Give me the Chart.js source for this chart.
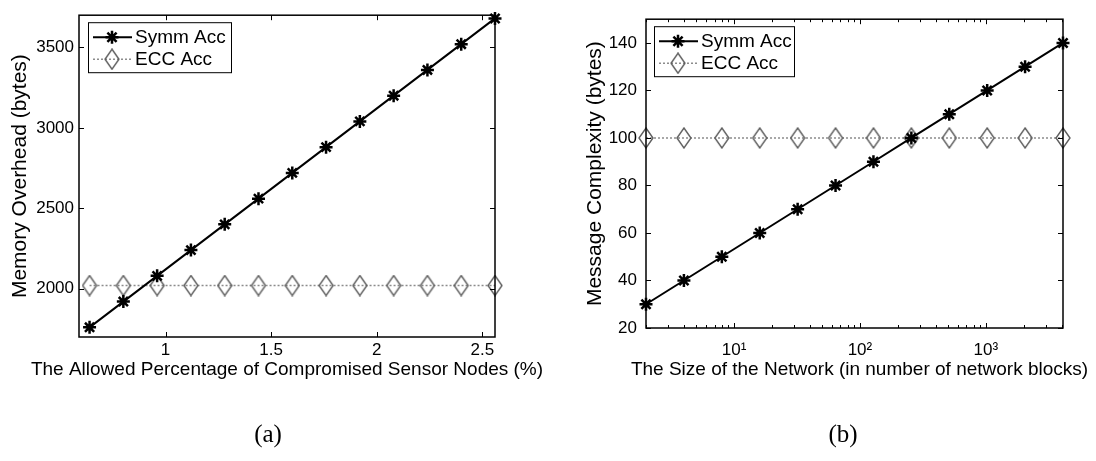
<!DOCTYPE html>
<html>
<head>
<meta charset="utf-8">
<script src="https://cdn.jsdelivr.net/npm/chart.js@4.4.0/dist/chart.umd.min.js"></script>
<style>
  body { margin: 0; background: #fff; }
  #wrap { position: relative; width: 1096px; height: 461px; overflow: hidden; background: #fff; }
  #wrap canvas { position: absolute; top: 0; }
  #cA { left: 0; }
  #cB { left: 548px; }
  .cap { position: absolute; top: 420px; font-family: "Liberation Serif", "Times New Roman", serif; font-size: 25px; transform: translateX(-50%); color: #000; }
</style>
</head>
<body>
<div id="wrap">
  <canvas id="cA" width="548" height="461"></canvas>
  <canvas id="cB" width="548" height="461"></canvas>
  <div class="cap" style="left:268px">(a)</div>
  <div class="cap" style="left:843px">(b)</div>
</div>
<script>
// (a) memory overhead vs. allowed percentage of compromised nodes
const pctNodes = [0.64, 0.80, 0.96, 1.12, 1.28, 1.44, 1.60, 1.76, 1.92, 2.08, 2.24, 2.40, 2.56];
const memSymm  = [1760, 1920, 2080, 2240, 2400, 2560, 2720, 2880, 3040, 3200, 3360, 3520, 3680];
const memEcc   = [2020, 2020, 2020, 2020, 2020, 2020, 2020, 2020, 2020, 2020, 2020, 2020, 2020];
const ticksAX  = [1, 1.5, 2, 2.5];
const ticksAY  = [2000, 2500, 3000, 3500];

// (b) message complexity vs. network size
const netBlocks = [2, 4, 8, 16, 32, 64, 128, 256, 512, 1024, 2048, 4096];
const msgSymm   = [30, 40, 50, 60, 70, 80, 90, 100, 110, 120, 130, 140];
const msgEcc    = [100, 100, 100, 100, 100, 100, 100, 100, 100, 100, 100, 100];
const ticksBX   = [10, 100, 1000];
const ticksBXLabels = ["10\u00b9", "10\u00b2", "10\u00b3"];
const ticksBY   = [20, 40, 60, 80, 100, 120, 140];

const FONT = "'Liberation Sans', Arial, Helvetica, sans-serif";

// hollow tall diamond used for the ECC series
function diamondMarker() {
  const c = document.createElement("canvas");
  c.width = 16; c.height = 22;
  const g = c.getContext("2d");
  g.strokeStyle = "#5e5e5e";
  g.lineWidth = 1.4;
  g.beginPath();
  g.moveTo(8, 1); g.lineTo(15, 11); g.lineTo(8, 21); g.lineTo(1, 11);
  g.closePath();
  g.stroke();
  return c;
}
const diamond = diamondMarker();

function symmSet(data) {
  return {
    label: "Symm Acc", data,
    borderColor: "#000", borderWidth: 2,
    pointStyle: "star", pointRadius: 6.5, pointBorderWidth: 2.5,
    pointBorderColor: "#000", pointBackgroundColor: "#000",
    tension: 0, fill: false, clip: false
  };
}
function eccSet(data) {
  return {
    label: "ECC Acc", data,
    borderColor: "#8c8c8c", borderWidth: 1.5, borderDash: [2, 2],
    pointStyle: diamond, pointRadius: 8,
    tension: 0, fill: false, clip: false
  };
}

// box around plot area with inward tick marks on all four sides
const frameTicks = {
  id: "frameTicks",
  afterDatasetsDraw(chart) {
    const { ctx, chartArea: { left, right, top, bottom }, scales: { x, y } } = chart;
    ctx.save();
    ctx.strokeStyle = "#000";
    ctx.lineWidth = 1;
    ctx.beginPath();
    const major = 5, minor = 3;
    x.ticks.forEach(t => {
      const px = Math.round(x.getPixelForValue(t.value)) + 0.5;
      ctx.moveTo(px, bottom); ctx.lineTo(px, bottom - major);
      ctx.moveTo(px, top); ctx.lineTo(px, top + major);
    });
    if (x.type === "logarithmic") {
      for (let d = 1; d <= 1000; d *= 10) {
        for (let m = 2; m <= 9; m++) {
          const v = m * d;
          if (v < x.min || v > x.max) continue;
          const px = Math.round(x.getPixelForValue(v)) + 0.5;
          ctx.moveTo(px, bottom); ctx.lineTo(px, bottom - minor);
          ctx.moveTo(px, top); ctx.lineTo(px, top + minor);
        }
      }
    }
    y.ticks.forEach(t => {
      const py = Math.round(y.getPixelForValue(t.value)) + 0.5;
      ctx.moveTo(left, py); ctx.lineTo(left + major, py);
      ctx.moveTo(right, py); ctx.lineTo(right - major, py);
    });
    ctx.stroke();
    ctx.lineWidth = 1.5;
    ctx.strokeRect(left, top, right - left, bottom - top);
    ctx.restore();
  }
};

// x-axis caption, centred under the plot and allowed to run past its edges
const xCaption = {
  id: "xCaption",
  afterDraw(chart, args, opts) {
    const { ctx, chartArea } = chart;
    ctx.save();
    ctx.fillStyle = "#000";
    ctx.font = "19px " + FONT;
    ctx.textAlign = "center";
    ctx.textBaseline = "middle";
    ctx.fillText(opts.text, (chartArea.left + chartArea.right) / 2 + (opts.dx || 0), opts.y);
    ctx.restore();
  }
};

// boxed legend in the upper-left corner: line sample, marker, label
const boxLegend = {
  id: "boxLegend",
  afterDraw(chart, args, opts) {
    const { ctx, chartArea } = chart;
    const x0 = chartArea.left + opts.inset;
    const y0 = chartArea.top + 7;
    const w = opts.width, h = 50;
    ctx.save();
    ctx.fillStyle = "#fff";
    ctx.fillRect(x0, y0, w, h);
    ctx.strokeStyle = "#000";
    ctx.lineWidth = 1;
    ctx.strokeRect(x0 + 0.5, y0 + 0.5, w, h);
    chart.data.datasets.forEach((ds, i) => {
      const cy = y0 + 15 + i * 22;
      ctx.strokeStyle = ds.borderColor;
      ctx.lineWidth = ds.borderWidth;
      ctx.setLineDash(ds.borderDash || []);
      ctx.beginPath();
      ctx.moveTo(x0 + 5, cy);
      ctx.lineTo(x0 + 44, cy);
      ctx.stroke();
      ctx.setLineDash([]);
      ctx.lineWidth = ds.pointBorderWidth || 1;
      ctx.strokeStyle = ds.pointBorderColor || ds.borderColor;
      Chart.helpers.drawPoint(ctx, {
        pointStyle: ds.pointStyle, radius: ds.pointRadius,
        borderWidth: ds.pointBorderWidth || 1, rotation: 0
      }, x0 + 24, cy);
      ctx.fillStyle = "#000";
      ctx.font = "19px " + FONT;
      ctx.textBaseline = "middle";
      ctx.textAlign = "left";
      ctx.fillText(ds.label, x0 + 47, cy + 1);
    });
    ctx.restore();
  }
};

function tickFont() { return { family: FONT, size: 17 }; }

function axisX(cfg) {
  return {
    type: cfg.type, min: cfg.min, max: cfg.max,
    grid: { display: false, drawTicks: false },
    border: { display: false },
    ticks: { font: tickFont(), color: "#000", maxRotation: 0, autoSkip: false, padding: cfg.tickPad, callback: cfg.label },
    title: { display: false },
    afterBuildTicks: s => { s.ticks = cfg.ticks.map(v => ({ value: v })); },
    afterFit: s => { s.height = 461 - cfg.bottom; }
  };
}
function axisY(cfg) {
  return {
    type: "linear", min: cfg.min, max: cfg.max,
    grid: { display: false, drawTicks: false },
    border: { display: false },
    ticks: { font: tickFont(), color: "#000", autoSkip: false, padding: cfg.tickPad, callback: v => String(v) },
    title: { display: true, text: cfg.title, font: { family: FONT, size: 21 }, color: "#000", padding: { top: cfg.titlePad, bottom: 0 } },
    afterBuildTicks: s => { s.ticks = cfg.ticks.map(v => ({ value: v })); },
    afterFit: s => { s.width = cfg.left; }
  };
}

const common = {
  responsive: false,
  animation: false,
  devicePixelRatio: 1,
  events: []
};

new Chart(document.getElementById("cA"), {
  type: "line",
  data: {
    datasets: [
      symmSet(pctNodes.map((x, i) => ({ x, y: memSymm[i] }))),
      eccSet(pctNodes.map((x, i) => ({ x, y: memEcc[i] })))
    ]
  },
  options: Object.assign({}, common, {
    layout: { padding: { top: 8, right: 53, left: 0, bottom: 0 } },
    scales: {
      x: axisX({ type: "linear", min: 0.59, max: 2.56, ticks: ticksAX, bottom: 337, tickPad: 3, label: v => String(v) }),
      y: axisY({ title: "Memory Overhead (bytes)", min: 1700, max: 3700, ticks: ticksAY, left: 79, tickPad: 5, titlePad: 8 })
    },
    plugins: {
      legend: { display: false },
      tooltip: { enabled: false },
      boxLegend: { inset: 9, width: 143 },
      xCaption: { text: "The Allowed Percentage of Compromised Sensor Nodes (%)", y: 370, dx: 0 }
    }
  }),
  plugins: [frameTicks, boxLegend, xCaption]
});

new Chart(document.getElementById("cB"), {
  type: "line",
  data: {
    datasets: [
      symmSet(netBlocks.map((x, i) => ({ x, y: msgSymm[i] }))),
      eccSet(netBlocks.map((x, i) => ({ x, y: msgEcc[i] })))
    ]
  },
  options: Object.assign({}, common, {
    layout: { padding: { top: 9, right: 33, left: 0, bottom: 0 } },
    scales: {
      x: axisX({
        type: "logarithmic", min: 2, max: 4096, ticks: ticksBX, bottom: 328, tickPad: 12,
        label: v => ticksBXLabels[ticksBX.indexOf(v)]
      }),
      y: axisY({ title: "Message Complexity (bytes)", min: 20, max: 150, ticks: ticksBY, left: 98, tickPad: 9, titlePad: 35 })
    },
    plugins: {
      legend: { display: false },
      tooltip: { enabled: false },
      boxLegend: { inset: 8, width: 140 },
      xCaption: { text: "The Size of the Network (in number of network blocks)", y: 370, dx: 5 }
    }
  }),
  plugins: [frameTicks, boxLegend, xCaption]
});
</script>
</body>
</html>
